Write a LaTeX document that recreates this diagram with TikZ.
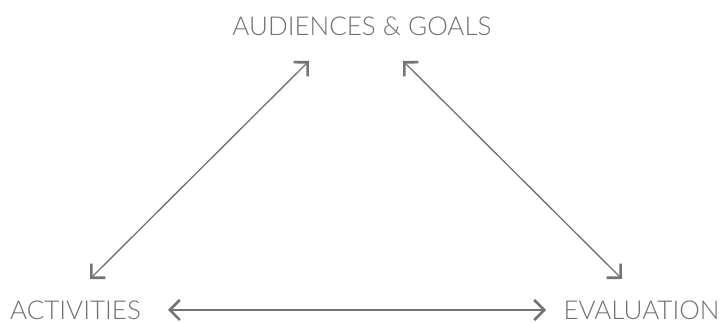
\documentclass[tikz,border=0pt]{standalone}
\usepackage{fontspec}
\setmainfont{Lato Light}
\usetikzlibrary{arrows.meta}
\definecolor{txt}{HTML}{707070}
\definecolor{arr}{HTML}{737373}
\tikzset{
  lbl/.style={text=txt, font=\fontsize{19.5pt}{22pt}\selectfont, inner sep=0pt},
  conn/.style={draw=arr, line width=1pt,
    {Straight Barb[length=7.5pt,width=15pt,line width=1.9pt]}-{Straight Barb[length=7.5pt,width=15pt,line width=1.9pt]}}
}
\begin{document}
\begin{tikzpicture}[x=0.75pt,y=-0.75pt]
\useasboundingbox (0,0) rectangle (721,323);
\node[lbl] (goals) at (362,26) {AUDIENCES \& GOALS};
\node[lbl] (act) at (75.5,310) {ACTIVITIES};
\node[lbl] (eval) at (641.5,310) {EVALUATION};
\coordinate (l1) at (90,279);
\coordinate (l2) at (309,61);
\coordinate (r1) at (403,61);
\coordinate (r2) at (622,279);
\coordinate (b1) at (168,310);
\coordinate (b2) at (546,310);
\draw[conn] (l1) -- (l2);
\draw[conn] (r1) -- (r2);
\draw[conn] (b1) -- (b2);
\end{tikzpicture}
\end{document}
